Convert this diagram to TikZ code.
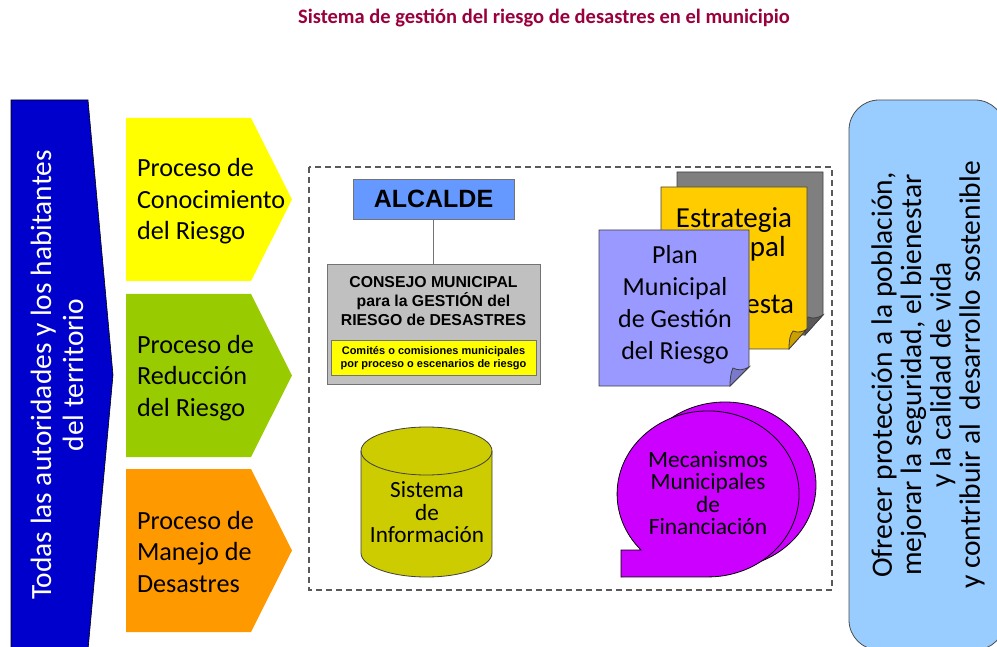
\documentclass[tikz,border=0pt]{standalone}
\usepackage{fontspec}
\setmainfont{Carlito}
\newfontfamily\arialfont{Liberation Sans}
\definecolor{amarillo}{HTML}{FFFF00}
\definecolor{azulosc}{HTML}{0000CC}
\definecolor{azulcla}{HTML}{99CCFF}
\definecolor{azulalc}{HTML}{6699FF}
\definecolor{verde}{HTML}{99CC00}
\definecolor{naranja}{HTML}{FF9900}
\definecolor{oliva}{HTML}{CCCC00}
\definecolor{magenta2}{HTML}{CC00FF}
\definecolor{lila}{HTML}{9999FF}
\definecolor{lilaosc}{HTML}{7A7ACC}
\definecolor{oro}{HTML}{FFCC00}
\definecolor{oroosc}{HTML}{CC9F00}
\definecolor{grisdoc}{HTML}{7F7F7F}
\definecolor{grisosc}{HTML}{595959}
\definecolor{grisbox}{HTML}{C0C0C0}
\definecolor{titulo}{HTML}{99003D}
\tikzset{
    proceso/.style={font=\fontsize{26.2}{31.5}\selectfont, align=left, anchor=west},
    hoja/.style={draw=black!75, line width=0.8pt},
    burbuja/.style={draw=black, line width=0.8pt, fill=magenta2},
    caja/.style={draw=black!55, line width=0.8pt, inner sep=0pt},
}
\begin{document}
\begin{tikzpicture}[x=1pt,y=-1pt]
    \path[use as bounding box,clip] (0,0) rectangle (997,647);
    \node[font=\bfseries\fontsize{20.5}{24}\selectfont, text=titulo] (tit) at (544,18.5) {Sistema de gestión del riesgo de desastres en el municipio};

    \filldraw[fill=azulosc, draw=black, line width=0.6pt] (11,100) -- (88,100) -- (113,375) -- (88,650) -- (11,650) -- cycle;
    \node[rotate=90, align=center, text=white, font=\fontsize{29.4}{32}\selectfont] (todas) at (57,375) {Todas las autoridades y los habitantes\\del territorio};

    \fill[amarillo] (126,118) -- (251,118) -- (292,199.5) -- (251,281) -- (126,281) -- cycle;
    \fill[verde] (126,294) -- (251,294) -- (292,375.5) -- (251,457) -- (126,457) -- cycle;
    \fill[naranja] (126,469) -- (251,469) -- (292,550.5) -- (251,632) -- (126,632) -- cycle;
    \node[proceso] (conoc) at (133.5,201.5) {Proceso de\\Conocimiento\\del Riesgo};
    \node[proceso] (reduc) at (133.5,378) {Proceso de\\Reducción\\del Riesgo};
    \node[proceso] (manejo) at (133.5,551.5) {Proceso de\\Manejo de\\Desastres};

    \draw[draw=black!65, line width=1.1pt, dash pattern=on 6pt off 4pt] (309,167) rectangle (832,590);

    \node[caja, fill=azulalc, minimum width=161pt, minimum height=40pt, font=\arialfont\bfseries\fontsize{25}{30}\selectfont] (alcalde) at (433.5,199) {ALCALDE};
    \node[caja, fill=grisbox, minimum width=213pt, minimum height=120pt] (consejo) at (433.5,324) {};
    \draw[draw=black!55, line width=0.8pt] (alcalde) -- (consejo);
    \node[align=center, font=\arialfont\bfseries\fontsize{15.8}{18.8}\selectfont] (consejotxt) at (433.5,301) {CONSEJO MUNICIPAL\\para la GESTIÓN del\\RIESGO de DESASTRES};
    \node[caja, fill=amarillo, minimum width=205pt, minimum height=35pt, align=center, font=\arialfont\bfseries\fontsize{11}{13.5}\selectfont] (comites) at (433.5,358) {Comités o comisiones municipales\\por proceso o escenarios de riesgo};

    \filldraw[hoja, fill=grisdoc] (677,172) -- (823,172) -- (823,315) -- (805,335) -- (677,335) -- cycle;
    \filldraw[hoja, fill=grisosc] (805,335) .. controls (805,326) and (806,320) .. (808,317) .. controls (813,319) and (818,318) .. (823,315) -- cycle;
    \filldraw[hoja, fill=oro] (661,187) -- (807,187) -- (807,329) -- (789,349) -- (661,349) -- cycle;
    \filldraw[hoja, fill=oroosc] (789,349) .. controls (789,340) and (790,335) .. (793,331) .. controls (798,333) and (803,332) .. (807,329) -- cycle;
    \node[align=center, font=\fontsize{29}{28.7}\selectfont] (estrategia) at (734,263) {Estrategia\\Municipal\rule{13pt}{0pt}\\de\\Respuesta};
    \filldraw[hoja, fill=lila] (599,230) -- (749,230) -- (749,367) -- (730,386) -- (599,386) -- cycle;
    \filldraw[hoja, fill=lilaosc] (730,386) .. controls (730,378) and (731,372) .. (733,368) .. controls (738,371) and (744,370) .. (749,367) -- cycle;
    \node[align=center, font=\fontsize{26}{32}\selectfont] (plan) at (675,304.5) {Plan\\Municipal\\de Gestión\\del Riesgo};

    \filldraw[hoja, fill=oliva] (361,451) -- (361,553) arc[start angle=180, end angle=360, x radius=65.5pt, y radius=24pt] -- (492,451) arc[start angle=0, end angle=180, x radius=65.5pt, y radius=24pt] -- cycle;
    \draw[hoja] (361,451) arc[start angle=180, end angle=360, x radius=65.5pt, y radius=24pt];
    \node[align=center, font=\fontsize{23.2}{22.5}\selectfont] (sistema) at (427,512.5) {Sistema\\de\\Información};

    \filldraw[burbuja] (725,485) circle[x radius=91pt, y radius=83pt];
    \filldraw[burbuja] (641,550) arc[start angle=222.5, end angle=-90, x radius=91pt, y radius=83pt] -- (621,577) -- (621,550) -- cycle;
    \node[align=center, font=\fontsize{23.4}{22.5}\selectfont] (mecanismos) at (708,493) {Mecanismos\\Municipales\\de\\Financiación};

    \filldraw[draw=black!70, fill=azulcla, line width=0.8pt, rounded corners=30pt] (849,100) rectangle (1005,650);
    \node[rotate=90, align=center, font=\fontsize{29.5}{29.3}\selectfont] (ofrecer) at (928,375) {Ofrecer protección a la población,\\mejorar la seguridad, el bienestar\\y la calidad de vida\\y contribuir al~ desarrollo sostenible};
\end{tikzpicture}
\end{document}
